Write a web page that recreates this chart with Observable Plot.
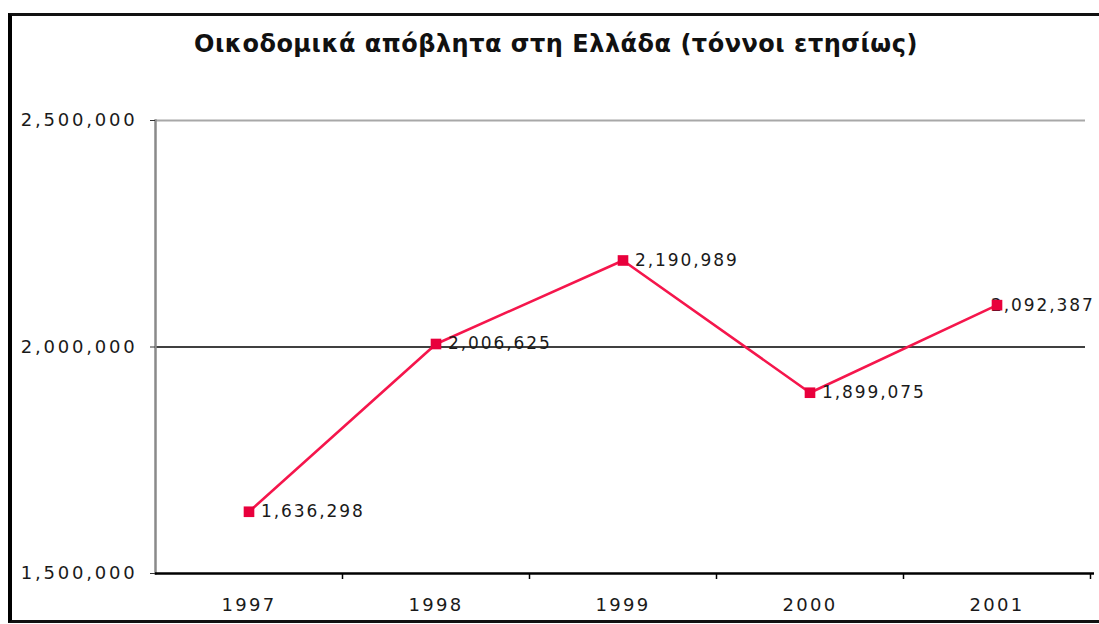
<!DOCTYPE html>
<html>
<head>
<meta charset="utf-8">
<script src="https://cdn.jsdelivr.net/npm/d3@7"></script>
<script src="https://cdn.jsdelivr.net/npm/@observablehq/plot@0.6"></script>
<style>
  html, body { margin: 0; padding: 0; background: #fff; width: 1099px; height: 624px; overflow: hidden; }
  #frame { position: absolute; left: 8px; top: 13px; width: 1200px; height: 604px;
           border-left: 4px solid #000; border-top: 3px solid #111; border-bottom: 3px solid #111; }
  #title { position: absolute; left: 0; width: 1112px; top: 30px; text-align: center; letter-spacing: 0.5px;
           font-family: "DejaVu Sans", sans-serif; font-weight: bold; font-size: 24px; color: #111; }
  #chart { position: absolute; left: 0; top: 0; }
  #chart svg { background: transparent !important; overflow: visible; }
  g[aria-label="y-axis tick label"] text { letter-spacing: 2.8px; }
  g[aria-label="x-axis tick label"] text { letter-spacing: 2.3px; }
  g[aria-label="text"] text { letter-spacing: 1.9px; }
</style>
</head>
<body>
<div id="frame"></div>
<div id="title">Οικοδομικά απόβλητα στη Ελλάδα (τόννοι ετησίως)</div>
<div id="chart"></div>
<script>
const years = ["1997", "1998", "1999", "2000", "2001"];
const values = [1636298, 2006625, 2190989, 1899075, 2092387];
const yTicks = [1500000, 2000000, 2500000];

const data = years.map((y, i) => ({year: y, value: values[i]}));
const fmt = d3.format(",");
const bw = (1090 - 155) / years.length;
const main = data.slice(0, 4);
const last = data.slice(4);

const chart = Plot.plot({
  width: 1099,
  height: 624,
  marginLeft: 155,
  marginRight: 9,
  marginTop: 120,
  marginBottom: 51,
  style: {fontFamily: "DejaVu Sans, sans-serif", fontSize: "17px", color: "#1a1a1a", background: "transparent"},
  x: {type: "band", domain: years, padding: 0},
  y: {domain: [1500000, 2500000]},
  marks: [
    Plot.ruleY([2500000], {stroke: "#a8a8a8", strokeWidth: 2, insetRight: 5}),
    Plot.ruleY([2000000], {stroke: "#000", strokeWidth: 1.5, insetRight: 5}),
    Plot.frame({anchor: "left", stroke: "#8a8a8a", strokeWidth: 2.5}),
    Plot.ruleY([1500000], {stroke: "#000", strokeWidth: 2.5, insetRight: -4}),
    Plot.axisY({ticks: yTicks, tickFormat: fmt, tickSize: 5, tickPadding: 13, fontSize: 18, label: null, stroke: "#333"}),
    Plot.axisX({tickSize: 0, tickPadding: 25, fontSize: 18, label: null}),
    Plot.axisX({tickSize: 6, dx: bw / 2, tickFormat: () => "", label: null, stroke: "#000", strokeWidth: 1.5}),
    Plot.line(data, {x: "year", y: "value", stroke: "#f5164c", strokeWidth: 2.6}),
    Plot.text(last, {x: "year", y: "value", text: d => fmt(d.value), dx: -6, textAnchor: "start", fontSize: 17, fill: "#1a1a1a"}),
    Plot.dot(data, {x: "year", y: "value", symbol: "square", r: 6, fill: "#e8003c", stroke: "none"}),
    Plot.text(main, {x: "year", y: "value", text: d => fmt(d.value), dx: 12, textAnchor: "start", fontSize: 17, fill: "#1a1a1a"})
  ]
});
document.getElementById("chart").appendChild(chart);
</script>
</body>
</html>
